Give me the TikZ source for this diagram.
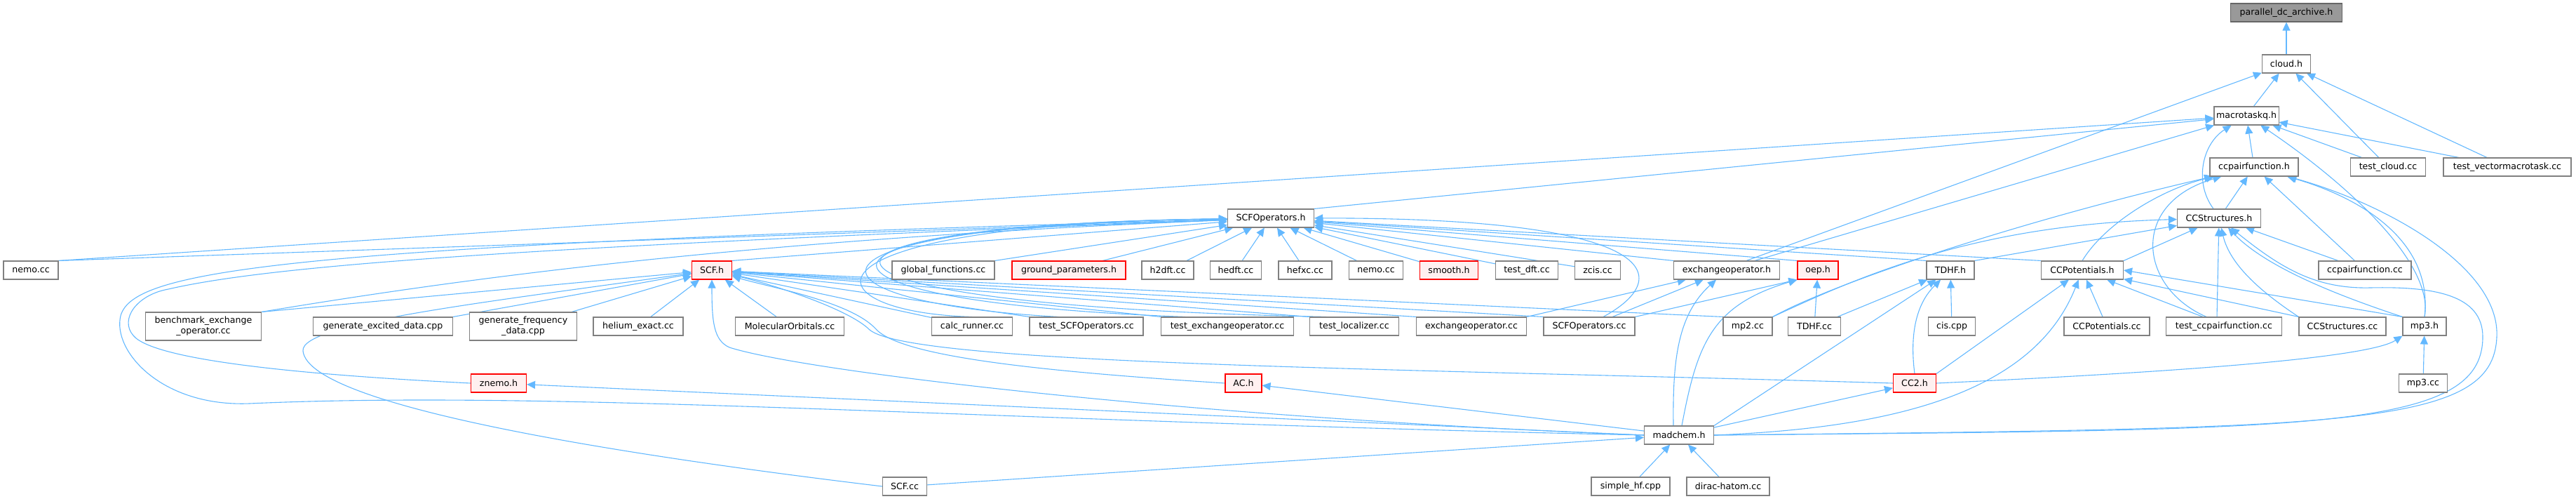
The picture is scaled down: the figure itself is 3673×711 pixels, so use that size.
\documentclass[tikz,border=0pt]{standalone}
\usepackage{fontspec}
\setmainfont{DejaVu Sans}
\usetikzlibrary{arrows.meta, backgrounds}
\definecolor{edgeBlue}{HTML}{63B8FF}
\definecolor{fileGray}{HTML}{808080}
\definecolor{truncRed}{HTML}{FF0000}
\definecolor{truncFill}{HTML}{FFF0F0}
\definecolor{rootFill}{HTML}{999999}
\definecolor{rootDark}{HTML}{666666}

\begin{document}
\begin{tikzpicture}[x=1pt, y=-1pt,
    file/.style={rectangle, draw=fileGray, fill=white, line width=1.1pt,
                 minimum height=26pt, inner xsep=3pt, inner ysep=2pt,
                 align=center, font=\fontsize{12.6}{15}\selectfont},
    trunc/.style={file, draw=truncRed, fill=truncFill},
    root/.style={file, draw=rootDark, fill=rootFill},
    tall/.style={minimum height=40pt},
    edge/.style={draw=edgeBlue, line width=1.1pt,
                 -{Triangle[length=12pt, width=11pt]}},
  ]
  \useasboundingbox (0,0) rectangle (3673,711);

  % top of the graph
  \node[root, minimum width=159pt] (pdca) at (3260,18) {parallel\_dc\_archive.h};
  \node[file, minimum width=69pt] (cloud) at (3260,91) {cloud.h};
  \node[file, minimum width=88pt] (mtq) at (3203,165) {macrotaskq.h};
  \node[file, minimum width=126pt] (ccpfh) at (3214,238) {ccpairfunction.h};
  \node[file, minimum width=107pt] (testcloud) at (3405,238) {test\_cloud.cc};
  \node[file, minimum width=182pt] (testvmt) at (3575,238) {test\_vectormacrotask.cc};
  \node[file, minimum width=123pt] (scfoph) at (1812,311) {SCFOperators.h};
  \node[file, minimum width=119pt] (ccsh) at (3164,311) {CCStructures.h};

  % row of headers
  \node[file, minimum width=78pt] (nemoA) at (44,385) {nemo.cc};
  \node[trunc, minimum width=57pt] (scfh) at (1015,385) {SCF.h};
  \node[file, minimum width=146pt] (globf) at (1345,385) {global\_functions.cc};
  \node[trunc, minimum width=162pt] (groundp) at (1524,385) {ground\_parameters.h};
  \node[file, minimum width=74pt] (h2dft) at (1665,385) {h2dft.cc};
  \node[file, minimum width=73pt] (hedft) at (1762,385) {hedft.cc};
  \node[file, minimum width=76pt] (hefxc) at (1861,385) {hefxc.cc};
  \node[file, minimum width=77pt] (nemoB) at (1962,385) {nemo.cc};
  \node[trunc, minimum width=83pt] (smooth) at (2066,385) {smooth.h};
  \node[file, minimum width=89pt] (testdft) at (2177,385) {test\_dft.cc};
  \node[file, minimum width=65pt] (zcis) at (2278,385) {zcis.cc};
  \node[file, minimum width=151pt] (exoph) at (2462,385) {exchangeoperator.h};
  \node[trunc, minimum width=58pt] (oep) at (2592,385) {oep.h};
  \node[file, minimum width=68pt] (tdhfh) at (2781,385) {TDHF.h};
  \node[file, minimum width=117pt] (ccpoth) at (2969,385) {CCPotentials.h};
  \node[file, minimum width=132pt] (ccpfcc) at (3372,385) {ccpairfunction.cc};

  % row of sources
  \node[file, tall, minimum width=165pt] (bench) at (290,465) {benchmark\_exchange\\\_operator.cc};
  \node[file, minimum width=199pt] (genexc) at (546,465) {generate\_excited\_data.cpp};
  \node[file, tall, minimum width=153pt] (genfreq) at (746,465) {generate\_frequency\\\_data.cpp};
  \node[file, minimum width=128pt] (helium) at (910,465) {helium\_exact.cc};
  \node[file, minimum width=155pt] (molorb) at (1126,465) {MolecularOrbitals.cc};
  \node[file, minimum width=115pt] (calcr) at (1386,465) {calc\_runner.cc};
  \node[file, minimum width=162pt] (testscfop) at (1549,465) {test\_SCFOperators.cc};
  \node[file, minimum width=189pt] (testexop) at (1750,465) {test\_exchangeoperator.cc};
  \node[file, minimum width=127pt] (testloc) at (1931,465) {test\_localizer.cc};
  \node[file, minimum width=157pt] (exopcc) at (2098,465) {exchangeoperator.cc};
  \node[file, minimum width=130pt] (scfopcc) at (2266,465) {SCFOperators.cc};
  \node[file, minimum width=70pt] (mp2) at (2492,465) {mp2.cc};
  \node[file, minimum width=75pt] (tdhfcc) at (2587,465) {TDHF.cc};
  \node[file, minimum width=67pt] (cis) at (2783,465) {cis.cpp};
  \node[file, minimum width=122pt] (ccpotcc) at (3004,465) {CCPotentials.cc};
  \node[file, minimum width=165pt] (testccpf) at (3171,465) {test\_ccpairfunction.cc};
  \node[file, minimum width=124pt] (ccscc) at (3340,465) {CCStructures.cc};
  \node[file, minimum width=62pt] (mp3h) at (3457,465) {mp3.h};

  % lower rows
  \node[trunc, minimum width=79pt] (znemo) at (711,546) {znemo.h};
  \node[trunc, minimum width=52pt] (ach) at (1773,546) {AC.h};
  \node[trunc, minimum width=61pt] (cc2) at (2730,546) {CC2.h};
  \node[file, minimum width=69pt] (mp3cc) at (3455,546) {mp3.cc};
  \node[file, minimum width=99pt] (madchem) at (2394,620) {madchem.h};
  \node[file, minimum width=63pt] (scfcc) at (1290,693) {SCF.cc};
  \node[file, minimum width=112pt] (simplehf) at (2325,693) {simple\_hf.cpp};
  \node[file, minimum width=118pt] (dirac) at (2464,693) {dirac-hatom.cc};

  \begin{scope}[on background layer]
  % cloud.h and macrotaskq.h
  \draw[edge] (cloud) -- (pdca);
  \draw[edge] (mtq) -- (cloud);
  \draw[edge] (testcloud) -- (cloud);
  \draw[edge] (testvmt) -- (cloud);
  \draw[edge] ([xshift=28pt]exoph.north) -- (cloud);
  \draw[edge] (ccpfh) -- (mtq);
  \draw[edge] (testcloud) -- (mtq);
  \draw[edge] (testvmt) -- (mtq);
  \draw[edge] ([xshift=40pt]exoph.north) -- (mtq);
  \draw[edge] (scfoph.north east) -- (mtq);
  \draw[edge] (nemoA.north east) -- (mtq);
  \draw[edge] ([xshift=-8pt]ccsh.north) .. controls (3128,260) and (3140,205) .. (mtq);
  \draw[edge] (mp3h.north) .. controls (3472,370) and (3330,250) .. (mtq);

  % ccpairfunction.h
  \draw[edge] (ccsh) -- (ccpfh);
  \draw[edge] (ccpfcc) -- (ccpfh);
  \draw[edge] (ccpoth.north) .. controls (3000,320) and (3080,270) .. (ccpfh);
  \draw[edge] ([xshift=-25pt]testccpf.north) .. controls (3050,410) and (3035,290) .. (ccpfh);
  \draw[edge] (mp2.north east) .. controls (2620,400) and (2900,310) .. (ccpfh);
  \draw[edge] (mp3h.north) .. controls (3470,340) and (3360,280) .. (ccpfh);
  \draw[edge] (madchem.east) .. controls (3350,610) and (3555,610) .. (3560,480)
              .. controls (3565,380) and (3400,290) .. (ccpfh);

  % CCStructures.h
  \draw[edge] (mp2.north east) .. controls (2660,390) and (2820,320) .. (ccsh);
  \draw[edge] (tdhfh.north east) -- (ccsh);
  \draw[edge] (ccpoth.north east) -- (ccsh);
  \draw[edge] ([xshift=-10pt]testccpf.north) -- (ccsh);
  \draw[edge] (ccscc.north west) .. controls (3230,420) and (3180,380) .. (ccsh);
  \draw[edge] (ccpfcc) -- (ccsh);
  \draw[edge] (mp3h.north west) .. controls (3330,420) and (3230,380) .. (ccsh);
  \draw[edge] (madchem.east) .. controls (3300,612) and (3540,615) .. (3540,480)
              .. controls (3540,420) and (3470,408) .. (3380,410)
              .. controls (3300,412) and (3250,380) .. (ccsh);

  % CCPotentials.h, mp3.h, TDHF.h, oep.h
  \draw[edge] (ccpotcc) -- (ccpoth);
  \draw[edge] ([xshift=-30pt]testccpf.north) -- (ccpoth);
  \draw[edge] (ccscc.north west) -- (ccpoth);
  \draw[edge] (mp3h.north west) -- (ccpoth.east);
  \draw[edge] (cc2.north east) -- (ccpoth);
  \draw[edge] (madchem.east) .. controls (2700,610) and (2900,560) .. (ccpoth);
  \draw[edge] (mp3cc) -- (mp3h);
  \draw[edge] (cc2.east) .. controls (3150,528) and (3380,508) .. (mp3h.south west);
  \draw[edge] (tdhfcc) -- (tdhfh);
  \draw[edge] (cis) -- (tdhfh);
  \draw[edge] (cc2.north) .. controls (2722,470) and (2735,430) .. (tdhfh);
  \draw[edge] (madchem.north east) -- (tdhfh);
  \draw[edge] (tdhfcc) -- (oep);
  \draw[edge] (scfopcc.north east) -- (oep.south west);
  \draw[edge] ([xshift=4pt]madchem.north) .. controls (2420,490) and (2440,435) .. (oep.south west);

  % exchangeoperator.h
  \draw[edge] (exopcc.north east) -- (exoph);
  \draw[edge] (scfopcc) -- (exoph);
  \draw[edge] ([xshift=-8pt]madchem.north) .. controls (2385,520) and (2390,450) .. (exoph);

  % madchem.h
  \draw[edge] (madchem) -- (cc2);
  \draw[edge] (madchem) -- (ach);
  \draw[edge] (madchem.west) -- (znemo);
  \draw[edge] (simplehf) -- (madchem);
  \draw[edge] (dirac) -- (madchem);
  \draw[edge] (scfcc) -- (madchem);

  % SCF.h
  \draw[edge] (madchem.west) .. controls (1700,595) and (1150,530) .. (1040,495)
              .. controls (1018,485) and (1015,460) .. (scfh);
  \draw[edge] (scfcc.west) .. controls (900,650) and (440,580) .. (432,500)
              .. controls (428,460) and (700,430) .. (scfh);
  \draw[edge] (ach.west) .. controls (1500,530) and (1290,510) .. (1250,470)
              .. controls (1215,430) and (1100,410) .. (scfh);
  \draw[edge] (cc2.west) .. controls (2000,525) and (1300,520) .. (1240,470)
              .. controls (1210,440) and (1100,405) .. (scfh);
  \draw[edge] (bench.north east) -- (scfh);
  \draw[edge] (genexc.north east) -- (scfh);
  \draw[edge] (genfreq) -- (scfh);
  \draw[edge] (helium) -- (scfh);
  \draw[edge] (molorb) -- (scfh);
  \draw[edge] (calcr) -- (scfh);
  \draw[edge] (testscfop.north west) -- (scfh);
  \draw[edge] (testexop.north west) -- (scfh);
  \draw[edge] (testloc.north west) -- (scfh);
  \draw[edge] (exopcc.north west) -- (scfh);
  \draw[edge] (scfopcc.north west) -- (scfh);
  \draw[edge] (mp2.north west) -- (scfh);

  % SCFOperators.h
  \draw[edge] (scfh.north east) -- (scfoph);
  \draw[edge] (bench.north east) .. controls (700,390) and (1100,340) .. (scfoph);
  \draw[edge] (nemoA.north east) -- (scfoph);
  \draw[edge] (madchem.west) .. controls (1400,600) and (800,555) .. (356,575)
              .. controls (230,580) and (160,500) .. (172,450)
              .. controls (190,385) and (400,350) .. (scfoph);
  \draw[edge] (znemo.west) .. controls (450,535) and (220,515) .. (190,478)
              .. controls (170,455) and (195,420) .. (240,412)
              .. controls (400,375) and (800,350) .. (scfoph);
  \draw[edge] (globf.north east) -- (scfoph);
  \draw[edge] ([xshift=48pt]groundp.north) -- (scfoph);
  \draw[edge] (h2dft) -- (scfoph);
  \draw[edge] (hedft) -- (scfoph);
  \draw[edge] (hefxc) -- (scfoph);
  \draw[edge] (nemoB) -- (scfoph);
  \draw[edge] (smooth) -- (scfoph);
  \draw[edge] (testdft) -- (scfoph);
  \draw[edge] (zcis) -- (scfoph);
  \draw[edge] (exoph.north west) -- (scfoph);
  \draw[edge] (oep.north west) -- (scfoph);
  \draw[edge] (tdhfh.north west) -- (scfoph);
  \draw[edge] (ccpoth.north west) -- (scfoph);
  \draw[edge] ([xshift=20pt]scfopcc.north) .. controls (2390,395) and (2370,310) .. (scfoph);
  \draw[edge] (calcr.north) .. controls (1150,445) and (1110,320) .. (scfoph);
  \draw[edge] ([xshift=-40pt]testscfop.north) .. controls (1120,430) and (1100,320) .. (scfoph);
  \draw[edge] ([xshift=-60pt]testexop.north) .. controls (1100,430) and (1090,320) .. (scfoph);
  \draw[edge] ([xshift=-40pt]testloc.north) .. controls (1070,435) and (1070,320) .. (scfoph);
  \end{scope}
\end{tikzpicture}
\end{document}
